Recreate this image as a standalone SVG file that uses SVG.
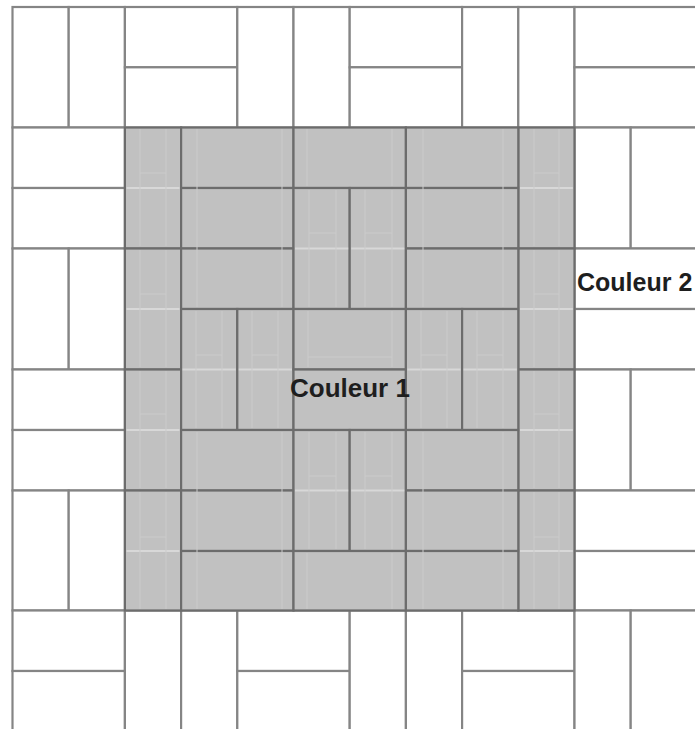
<svg xmlns="http://www.w3.org/2000/svg" width="695" height="729" viewBox="0 0 695 729">
<style>
.w{fill:#fff;stroke:#858585;stroke-width:2.2}
.g{fill:#c1c1c1;stroke:#6c6c6c;stroke-width:2.2}
.lt{stroke:#d8d8d8;stroke-width:2.2}
.ft{stroke:#cbcbcb;stroke-width:1;fill:none}
.t{font-family:"Liberation Sans",Arial,sans-serif;font-weight:bold;font-size:26px;fill:#1e1e1e}
</style>
<rect width="695" height="729" fill="#fff"/>
<g id="outer-ring">
<rect class="w" x="12.5" y="7" width="56.2" height="120.5"/>
<rect class="w" x="68.7" y="7" width="56.2" height="120.5"/>
<rect class="w" x="124.9" y="7" width="112.4" height="60.3"/>
<rect class="w" x="124.9" y="67.3" width="112.4" height="60.2"/>
<rect class="w" x="237.3" y="7" width="56.2" height="120.5"/>
<rect class="w" x="293.5" y="7" width="56.2" height="120.5"/>
<rect class="w" x="349.7" y="7" width="112.4" height="60.3"/>
<rect class="w" x="349.7" y="67.3" width="112.4" height="60.2"/>
<rect class="w" x="462.1" y="7" width="56.2" height="120.5"/>
<rect class="w" x="518.3" y="7" width="56.2" height="120.5"/>
<rect class="w" x="574.5" y="7" width="140" height="60.3"/>
<rect class="w" x="574.5" y="67.3" width="140" height="60.2"/>
<rect class="w" x="12.5" y="127.5" width="112.4" height="60.5"/>
<rect class="w" x="12.5" y="188" width="112.4" height="60.5"/>
<rect class="w" x="12.5" y="248.5" width="56.2" height="121"/>
<rect class="w" x="68.7" y="248.5" width="56.2" height="121"/>
<rect class="w" x="12.5" y="369.5" width="112.4" height="60.5"/>
<rect class="w" x="12.5" y="430" width="112.4" height="60.5"/>
<rect class="w" x="12.5" y="490.5" width="56.2" height="120"/>
<rect class="w" x="68.7" y="490.5" width="56.2" height="120"/>
<rect class="w" x="574.5" y="127.5" width="56.2" height="121"/>
<rect class="w" x="630.7" y="127.5" width="80" height="121"/>
<rect class="w" x="574.5" y="248.5" width="140" height="60.5"/>
<rect class="w" x="574.5" y="309" width="140" height="60.5"/>
<rect class="w" x="574.5" y="369.5" width="56.2" height="121"/>
<rect class="w" x="630.7" y="369.5" width="80" height="121"/>
<rect class="w" x="574.5" y="490.5" width="140" height="60.5"/>
<rect class="w" x="574.5" y="551" width="140" height="59.5"/>
<rect class="w" x="12.5" y="610.5" width="112.4" height="60.5"/>
<rect class="w" x="12.5" y="671" width="112.4" height="70"/>
<rect class="w" x="124.9" y="610.5" width="56.2" height="130"/>
<rect class="w" x="181.1" y="610.5" width="56.2" height="130"/>
<rect class="w" x="237.3" y="610.5" width="112.4" height="60.5"/>
<rect class="w" x="237.3" y="671" width="112.4" height="70"/>
<rect class="w" x="349.7" y="610.5" width="56.2" height="130"/>
<rect class="w" x="405.9" y="610.5" width="56.2" height="130"/>
<rect class="w" x="462.1" y="610.5" width="112.4" height="60.5"/>
<rect class="w" x="462.1" y="671" width="112.4" height="70"/>
<rect class="w" x="574.5" y="610.5" width="56.2" height="130"/>
<rect class="w" x="630.7" y="610.5" width="80" height="130"/>
</g>
<g id="colour-1-area">
<rect class="g" x="124.9" y="127.5" width="56.2" height="121"/>
<rect class="g" x="124.9" y="248.5" width="56.2" height="121"/>
<rect class="g" x="124.9" y="369.5" width="56.2" height="121"/>
<rect class="g" x="124.9" y="490.5" width="56.2" height="120"/>
<rect class="g" x="518.3" y="127.5" width="56.2" height="121"/>
<rect class="g" x="518.3" y="248.5" width="56.2" height="121"/>
<rect class="g" x="518.3" y="369.5" width="56.2" height="121"/>
<rect class="g" x="518.3" y="490.5" width="56.2" height="120"/>
<rect class="g" x="181.1" y="127.5" width="112.4" height="60.5"/>
<rect class="g" x="293.5" y="127.5" width="112.4" height="60.5"/>
<rect class="g" x="405.9" y="127.5" width="112.4" height="60.5"/>
<rect class="g" x="181.1" y="188" width="112.4" height="60.5"/>
<rect class="g" x="181.1" y="248.5" width="112.4" height="60.5"/>
<rect class="g" x="293.5" y="188" width="56.2" height="121"/>
<rect class="g" x="349.7" y="188" width="56.2" height="121"/>
<rect class="g" x="405.9" y="188" width="112.4" height="60.5"/>
<rect class="g" x="405.9" y="248.5" width="112.4" height="60.5"/>
<rect class="g" x="181.1" y="309" width="56.2" height="121"/>
<rect class="g" x="237.3" y="309" width="56.2" height="121"/>
<rect class="g" x="293.5" y="309" width="112.4" height="60.5"/>
<rect class="g" x="293.5" y="369.5" width="112.4" height="60.5"/>
<rect class="g" x="405.9" y="309" width="56.2" height="121"/>
<rect class="g" x="462.1" y="309" width="56.2" height="121"/>
<rect class="g" x="181.1" y="430" width="112.4" height="60.5"/>
<rect class="g" x="181.1" y="490.5" width="112.4" height="60.5"/>
<rect class="g" x="293.5" y="430" width="56.2" height="121"/>
<rect class="g" x="349.7" y="430" width="56.2" height="121"/>
<rect class="g" x="405.9" y="430" width="112.4" height="60.5"/>
<rect class="g" x="405.9" y="490.5" width="112.4" height="60.5"/>
<rect class="g" x="181.1" y="551" width="112.4" height="59.5"/>
<rect class="g" x="293.5" y="551" width="112.4" height="59.5"/>
<rect class="g" x="405.9" y="551" width="112.4" height="59.5"/>
</g>
<g id="faint-lines">
<path class="lt" d="M126.5 188H179.5M126.5 309H179.5M126.5 430H179.5M126.5 551H179.5
M519.9 188H572.9M519.9 309H572.9M519.9 430H572.9M519.9 551H572.9
M295 248.5H348.2M351.2 248.5H404.4M295 490.5H348.2M351.2 490.5H404.4
M182.6 369.5H235.8M238.8 369.5H292M407.4 369.5H460.6M463.6 369.5H516.8"/>
<path class="ft" d="M140 129V246M166 129V246M140 173H166M140 250V367M166 250V367M140 294H166M140 371V488M166 371V488M140 414H166M140 492V609M166 492V609M140 537H166
M534 129V246M559 129V246M534 173H559M534 250V367M559 250V367M534 294H559M534 371V488M559 371V488M534 414H559M534 492V609M559 492V609M534 537H559
M197 129V307M282 129V307M307 129V186M392 129V186M423 129V307M503 129V307
M309 190V307M336 190V307M309 233H336M365 190V307M392 190V307M365 233H392
M197 432V609M282 432V609M423 432V609M503 432V609M307 553V609M392 553V609
M309 432V549M336 432V549M309 476H336M365 432V549M392 432V549M365 476H392
M196 311V428M222 311V428M196 355H222M252 311V428M278 311V428M252 355H278
M421 311V428M447 311V428M421 355H447M477 311V428M503 311V428M477 355H503
M308 311V367M392 311V367M308 357H392"/>
</g>
<g id="labels">
<text class="t" x="290" y="397">Couleur 1</text>
<text class="t" x="577" y="291" style="font-size:25px">Couleur 2</text>
</g>
</svg>
